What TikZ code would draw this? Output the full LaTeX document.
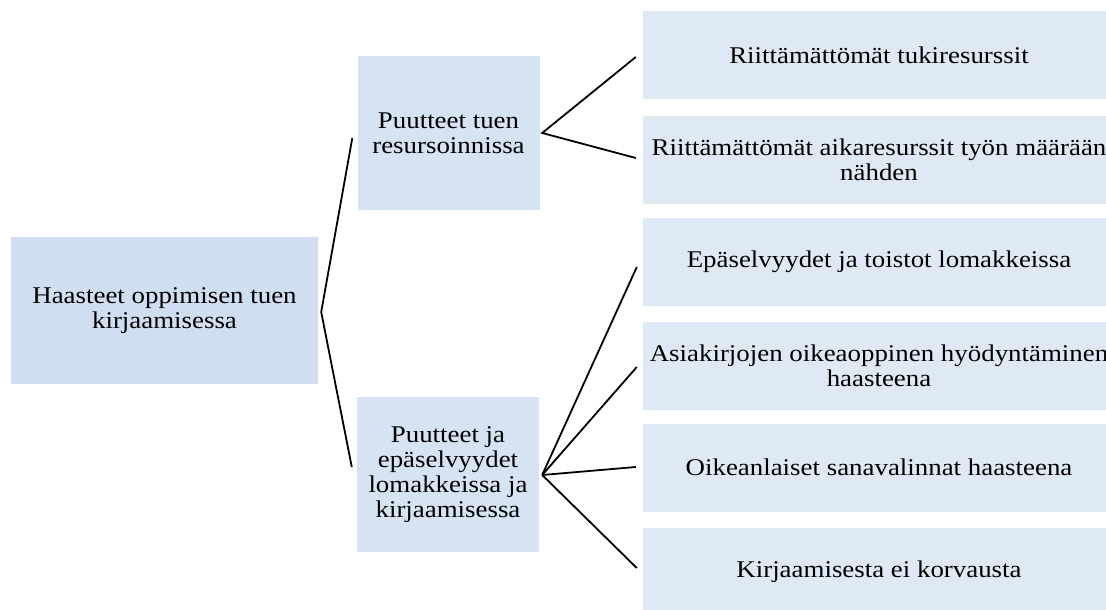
\documentclass[tikz,border=0pt]{standalone}
\usepackage{fontspec}
\setmainfont[FakeStretch=1.12]{Liberation Serif}
\usetikzlibrary{calc}
\definecolor{rootfill}{RGB}{207,222,240}
\definecolor{midfill}{RGB}{214,227,243}
\definecolor{leaffill}{RGB}{223,233,246}
\begin{document}
\begin{tikzpicture}[x=1pt,y=-1pt,
  box/.style={inner sep=0pt, align=center, font=\fontsize{24}{25}\selectfont, text=black},
  rootbox/.style={box, fill=rootfill, minimum width=307pt, minimum height=147pt},
  midbox/.style={box, fill=midfill, minimum width=182pt, minimum height=153pt},
  leafbox/.style={box, fill=leaffill, minimum width=472pt, minimum height=88pt},
  link/.style={line width=1.8pt, black}]
\path[use as bounding box] (0,0) rectangle (1106,610);
\clip (0,0) rectangle (1106,610);
\fill[white] (0,0) rectangle (1106,610);

% root and second level
\node[rootbox] (root) at (164.5,310.5) {Haasteet oppimisen tuen\\kirjaamisessa};
\node[midbox] (m1) at (448.5,133) {Puutteet tuen\\resursoinnissa};
\node[midbox, minimum height=155pt] (m2) at (448,474.5) {Puutteet ja\\epäselvyydet\\lomakkeissa ja\\kirjaamisessa};

% third level
\node[leafbox] (l1) at (879,55) {Riittämättömät tukiresurssit};
\node[leafbox] (l2) at (879,159.5) {Riittämättömät aikaresurssit työn määrään\\nähden};
\node[leafbox] (l3) at (879,261.5) {Epäselvyydet ja toistot lomakkeissa};
\node[leafbox] (l4) at (879,366) {Asiakirjojen oikeaoppinen hyödyntäminen\\haasteena};
\node[leafbox] (l5) at (879,467.5) {Oikeanlaiset sanavalinnat haasteena};
\node[leafbox] (l6) at (879,572) {Kirjaamisesta ei korvausta};

% connectors
\coordinate (rv) at ($(root.east)+(3,1.5)$);
\draw[link] ($(m1.west)+(-5,5)$) -- (rv) -- ($(m2.west)+(-5,-7.5)$);
\coordinate (v1) at ($(m1.east)+(2.5,0)$);
\draw[link] ($(l1.west)+(-7,2)$) -- (v1) -- ($(l2.west)+(-7,-1.5)$);
\coordinate (v2) at ($(m2.east)+(3,0.5)$);
\draw[link] (v2) -- ($(l3.west)+(-6,5.5)$);
\draw[link] (v2) -- ($(l4.west)+(-6,1)$);
\draw[link] (v2) -- ($(l5.west)+(-7,-0.5)$);
\draw[link] (v2) -- ($(l6.west)+(-6,-4)$);
\end{tikzpicture}
\end{document}
